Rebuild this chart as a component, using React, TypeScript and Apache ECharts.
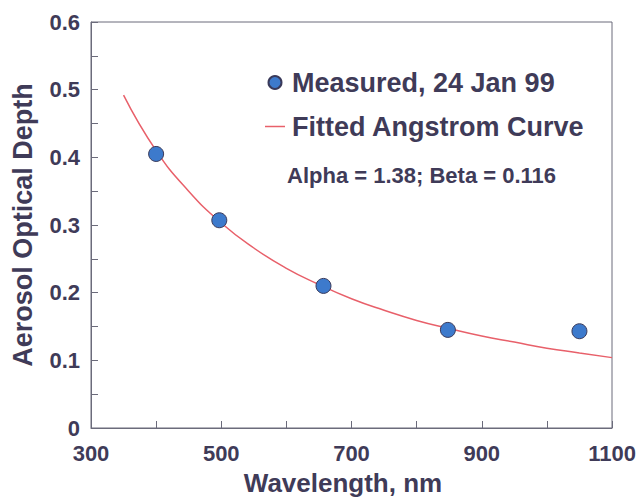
import React, { useEffect, useRef } from "react";
import * as echarts from "echarts";

const measuredWavelengths = [400, 497, 657, 848, 1050];
const measuredDepths = [0.405, 0.307, 0.21, 0.145, 0.143];

const curveWavelengths = [350, 400, 450, 500, 550, 600, 650, 700, 750, 800, 850, 900, 950, 1000, 1050, 1100];
const curveDepths = [0.492, 0.41, 0.35, 0.303, 0.266, 0.236, 0.212, 0.191, 0.174, 0.159, 0.147, 0.136, 0.127, 0.118, 0.111, 0.104];

const measuredName = "Measured, 24 Jan 99";
const curveName = "Fitted Angstrom Curve";
const fitNote = "Alpha = 1.38; Beta = 0.116";
const xTitle = "Wavelength, nm";
const yTitle = "Aerosol Optical Depth";

const TEXT = "#3f3b58";
const AXIS = "#6b6b7b";
const FONT = "'Liberation Sans', Arial, sans-serif";

export default function App() {
  const ref = useRef<HTMLDivElement>(null);
  useEffect(() => {
    if (!ref.current) return;
    const chart = echarts.init(ref.current, undefined, { renderer: "svg" });
    const axisCommon = {
      axisLine: { show: true, lineStyle: { color: AXIS, width: 1 } },
      axisTick: { show: true, inside: true, length: 7, lineStyle: { color: AXIS } },
      minorTick: { show: true, splitNumber: 2, length: 7, lineStyle: { color: AXIS } },
      splitLine: { show: false },
      minorSplitLine: { show: false },
    };
    chart.setOption({
      animation: false,
      backgroundColor: "#ffffff",
      grid: {
        left: 91,
        right: 25,
        top: 22,
        bottom: 72,
        containLabel: false,
        outerBoundsMode: "none",
        show: true,
        borderColor: AXIS,
        borderWidth: 1,
      },
      xAxis: {
        type: "value",
        min: 300,
        max: 1100,
        interval: 200,
        ...axisCommon,
        axisLabel: {
          color: TEXT,
          fontFamily: FONT,
          fontWeight: "bold",
          fontSize: 22,
          margin: 14,
          formatter: (v: number) => String(v),
        },
        name: xTitle,
        nameLocation: "middle",
        nameGap: 42,
        nameTextStyle: { color: TEXT, fontFamily: FONT, fontWeight: "bold", fontSize: 26, padding: [0, 17, 0, 0] },
      },
      yAxis: {
        type: "value",
        min: 0,
        max: 0.6,
        interval: 0.1,
        ...axisCommon,
        axisLabel: { color: TEXT, fontFamily: FONT, fontWeight: "bold", fontSize: 22, margin: 11 },
        name: yTitle,
        nameLocation: "middle",
        nameRotate: 90,
        nameGap: 55,
        nameTextStyle: { color: TEXT, fontFamily: FONT, fontWeight: "bold", fontSize: 27 },
      },
      legend: {
        orient: "vertical",
        left: 260,
        top: 64,
        itemWidth: 20,
        itemHeight: 13,
        itemGap: 17,
        data: [
          { name: measuredName, icon: "circle" },
          { name: curveName, icon: "path://M0 0 H20 V1.5 H0 Z" },
        ],
        textStyle: { color: TEXT, fontFamily: FONT, fontWeight: "bold", fontSize: 27, padding: [0, 0, 0, 2] },
      },
      graphic: [
        {
          type: "text",
          x: 287,
          y: 175,
          style: {
            text: fitNote,
            fill: TEXT,
            font: `bold 22px ${FONT}`,
            verticalAlign: "middle",
            align: "left",
          },
        },
      ],
      series: [
        {
          name: curveName,
          type: "line",
          data: curveWavelengths.map((w, i) => [w, curveDepths[i]]),
          smooth: true,
          symbol: "none",
          lineStyle: { color: "#e8606a", width: 1.5 },
          itemStyle: { color: "#e8606a" },
          z: 2,
        },
        {
          name: measuredName,
          type: "scatter",
          data: measuredWavelengths.map((w, i) => [w, measuredDepths[i]]),
          symbol: "circle",
          symbolSize: 15,
          itemStyle: { color: "#3d7acc", borderColor: "#3a3a5a", borderWidth: 1, opacity: 1 },
          z: 3,
        },
      ],
    });
    return () => chart.dispose();
  }, []);
  return (
    <div
      ref={ref}
      style={{ position: "absolute", left: 0, top: 0, width: 637, height: 500, background: "#fff" }}
    />
  );
}
